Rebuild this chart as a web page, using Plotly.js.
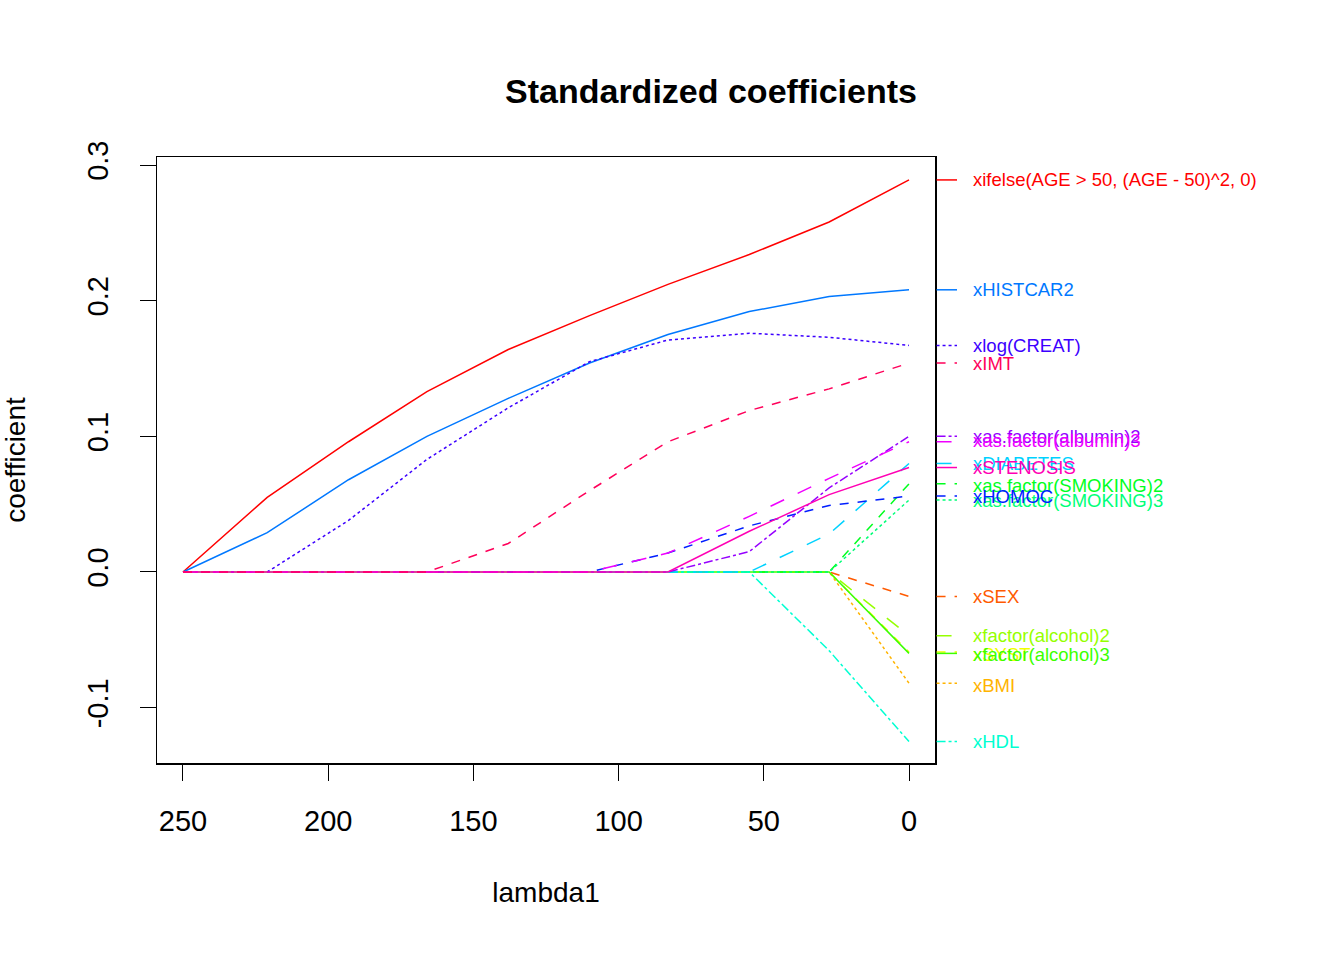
<!DOCTYPE html>
<html>
<head>
<meta charset="utf-8">
<script src="https://cdn.plot.ly/plotly-3.0.1.min.js"></script>
<style>body{margin:0;background:#fff}#chart{width:1344px;height:960px}</style>
</head>
<body>
<div id="chart"></div>
<script>
// lambda knots along the path
var lambda = [250, 221, 193, 166, 138, 110, 83, 55, 27.5, 0];

var names = ['xifelse(AGE > 50, (AGE - 50)^2, 0)', 'xSEX', 'xBMI', 'xSYST', 'xfactor(alcohol)2',
  'xfactor(alcohol)3', 'xas.factor(SMOKING)2', 'xas.factor(SMOKING)3', 'xHDL', 'xDIABETES',
  'xHISTCAR2', 'xHOMOC', 'xlog(CREAT)', 'xas.factor(albumin)2', 'xas.factor(albumin)3',
  'xSTENOSIS', 'xIMT'];

var colors = ['#FF0000', '#FF5A00', '#FFB400', '#F0FF00', '#96FF00', '#3CFF00', '#00FF1E', '#00FF78',
  '#00FFD2', '#00D2FF', '#0078FF', '#001EFF', '#3C00FF', '#9600FF', '#F000FF', '#FF00B4', '#FF005A'];

var dashes = ['solid', 'dash', 'dot', 'dash', 'longdash', 'solid', 'dash', 'dot', 'dashdot', 'longdash',
  'solid', 'dash', 'dot', 'dashdot', 'longdash', 'solid', 'dash'];

var coefs = [
  [0, 0.055, 0.096, 0.133, 0.164, 0.189, 0.212, 0.234, 0.258, 0.289],
  [0, 0, 0, 0, 0, 0, 0, 0, 0, -0.018],
  [0, 0, 0, 0, 0, 0, 0, 0, 0, -0.082],
  [0, 0, 0, 0, 0, 0, 0, 0, 0, -0.059],
  [0, 0, 0, 0, 0, 0, 0, 0, 0, -0.047],
  [0, 0, 0, 0, 0, 0, 0, 0, 0, -0.060],
  [0, 0, 0, 0, 0, 0, 0, 0, 0, 0.065],
  [0, 0, 0, 0, 0, 0, 0, 0, 0, 0.053],
  [0, 0, 0, 0, 0, 0, 0, 0, -0.058, -0.125],
  [0, 0, 0, 0, 0, 0, 0, 0, 0.028, 0.080],
  [0, 0.029, 0.068, 0.100, 0.128, 0.154, 0.175, 0.192, 0.203, 0.208],
  [0, 0, 0, 0, 0, 0, 0.014, 0.034, 0.049, 0.056],
  [0, 0, 0.038, 0.083, 0.121, 0.155, 0.171, 0.176, 0.173, 0.167],
  [0, 0, 0, 0, 0, 0, 0, 0.015, 0.062, 0.100],
  [0, 0, 0, 0, 0, 0, 0.014, 0.041, 0.069, 0.096],
  [0, 0, 0, 0, 0, 0, 0, 0.030, 0.057, 0.077],
  [0, 0, 0, 0, 0.021, 0.060, 0.096, 0.119, 0.135, 0.154]
];

var labelY = [0.289, -0.018, -0.084, -0.061, -0.047, -0.061, 0.064, 0.053, -0.125, 0.080,
  0.208, 0.056, 0.167, 0.1, 0.097, 0.077, 0.154];

var data = coefs.map(function (c, i) {
  return {
    x: lambda, y: c, type: 'scatter', mode: 'lines', name: names[i],
    line: {color: colors[i], dash: dashes[i], width: 1.5}, showlegend: false
  };
});

var plotW = 778;
var shapes = [], annotations = [];
names.forEach(function (n, i) {
  shapes.push({type: 'line', xref: 'paper', yref: 'y', x0: 1.002, x1: 1 + 22 / plotW,
    y0: coefs[i][9], y1: coefs[i][9], line: {color: colors[i], dash: dashes[i], width: 1.5}});
  annotations.push({xref: 'paper', yref: 'y', x: 1 + 36 / plotW, y: labelY[i], text: n,
    showarrow: false, xanchor: 'left', yanchor: 'middle',
    font: {color: colors[i], size: 18.5}});
});

var layout = {
  width: 1344, height: 960,
  margin: {l: 157, r: 409, t: 157, b: 197},
  paper_bgcolor: '#fff', plot_bgcolor: '#fff',
  font: {family: 'Liberation Sans, Arial, sans-serif', color: '#000'},
  title: {text: '<b>Standardized coefficients</b>', font: {size: 34}, x: 0.529, xanchor: 'center', y: 0.917},
  xaxis: {
    range: [258.95, -8.95], tickvals: [250, 200, 150, 100, 50, 0],
    ticks: 'outside', ticklen: 16, tickcolor: '#000', showgrid: false, zeroline: false,
    showline: true, mirror: true, linecolor: '#000', linewidth: 1.5, ticklabelstandoff: 16,
    tickfont: {size: 29}, title: {text: 'lambda1', font: {size: 28}, standoff: 46}
  },
  yaxis: {
    range: [-0.1408, 0.3059], tickvals: [-0.1, 0, 0.1, 0.2, 0.3], ticktext: ['-0.1', '0.0', '0.1', '0.2', '0.3'],
    tickangle: -90, ticks: 'outside', ticklen: 16, tickcolor: '#000', showgrid: false, zeroline: false,
    showline: true, mirror: true, linecolor: '#000', linewidth: 1.5, ticklabelstandoff: 20,
    tickfont: {size: 29}, title: {text: 'coefficient', font: {size: 28}, standoff: 48}
  },
  shapes: shapes,
  annotations: annotations
};

Plotly.newPlot('chart', data, layout, {staticPlot: true});
</script>
</body>
</html>
